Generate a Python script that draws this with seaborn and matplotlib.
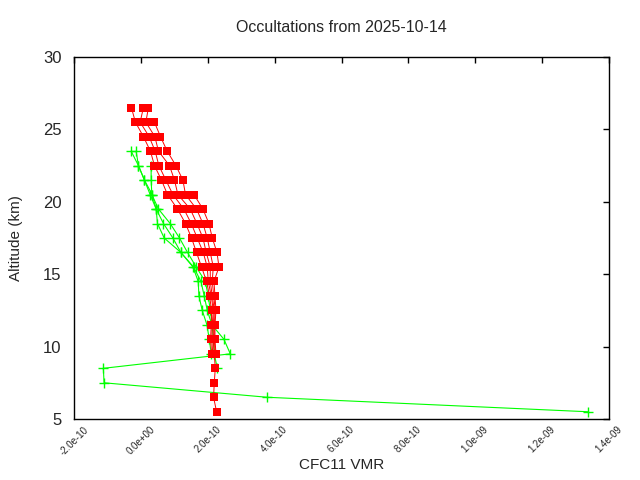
import numpy as np
import pandas as pd
import matplotlib
matplotlib.use("Agg")
import matplotlib.pyplot as plt
import seaborn as sns
from matplotlib.ticker import FuncFormatter

# ---- data (VMR values in units of 1e-10) ----
alt_levels = [26.5, 25.5, 24.5, 23.5, 22.5, 21.5, 20.5, 19.5, 18.5, 17.5, 16.5,
              15.5, 14.5, 13.5, 12.5, 11.5, 10.5, 9.5, 8.5, 7.5, 6.5, 5.5]
nan = np.nan
red_p1 = [-0.283, -0.163, 0.076, 0.286, 0.406, 0.616, 0.796, 1.095, 1.335, 1.515, 1.664,
          1.814, 1.964, 2.054, 2.114, 2.105, 2.084, 2.114, nan, nan, nan, nan]
red_p2 = [0.076, -0.022, 0.247, 0.427, 0.538, 0.748, 0.957, 1.287, 1.506, 1.685, 1.865,
          1.985, 2.015, 2.105, 2.165, 2.135, 2.120, 2.150, nan, nan, nan, nan]
red_p3 = [0.226, 0.148, 0.418, 0.526, 0.855, 1.005, 1.107, 1.476, 1.676, 1.856, 1.955,
          2.075, 2.075, 2.135, 2.195, 2.165, 2.165, 2.195, 2.225, 2.195, 2.174, 2.264]
red_p4 = [nan, 0.406, 0.586, 0.787, 1.047, 1.257, 1.335, 1.664, 1.856, 1.985, 2.075,
          2.165, 2.135, 2.180, 2.225, 2.195, 2.195, 2.225, nan, nan, nan, nan]
red_p5 = [nan, nan, nan, nan, nan, nan, 1.587, 1.856, 2.036, 2.135, 2.276,
          2.336, 2.186, 2.216, 2.246, 2.216, 2.216, 2.246, nan, nan, nan, nan]

green_p1 = [nan, nan, nan, -0.292, -0.073, 0.106, 0.277, 0.457, 0.496, 0.697, 1.197,
            1.557, 1.715, 1.736, 1.835, 1.976, 2.045, 2.105, nan, nan, nan, nan]
green_p2 = [nan, nan, nan, -0.142, -0.073, 0.106, 0.337, 0.457, 0.676, 0.957, 1.197,
            1.575, 1.796, 1.895, 1.985, 2.126, 2.485, 2.674, -1.122, -1.101, 3.783, 13.371]
green_p3 = [nan, nan, nan, nan, 0.307, 0.307, 0.328, 0.526, 0.876, 1.155, 1.395,
            1.655, 1.925, 2.015, 2.075, 2.135, 2.165, 2.195, 2.285, nan, nan, nan]

x_ticks = [-2e-10, 0.0, 2e-10, 4e-10, 6e-10, 8e-10, 1.0e-9, 1.2e-9, 1.4e-9]
y_ticks = [5, 10, 15, 20, 25, 30]
UNIT = 1e-10


def long_df(profiles):
    rows = []
    for i, prof in enumerate(profiles):
        for a, v in zip(alt_levels, prof):
            if not np.isnan(v):
                rows.append({"profile": i, "alt": a, "vmr": v * UNIT})
    return pd.DataFrame(rows)


df_red = long_df([red_p1, red_p2, red_p3, red_p4, red_p5])
df_green = long_df([green_p1, green_p2, green_p3])

sns.set_theme(style="white")
plt.rcParams["font.family"] = ["Liberation Sans", "DejaVu Sans"]

fig = plt.figure(figsize=(6.4, 4.8), dpi=100)
ax = fig.add_axes([74 / 640, 1 - 419 / 480, 535 / 640, 362 / 480])

sns.lineplot(data=df_green, x="vmr", y="alt", units="profile", estimator=None,
             sort=False, color="#00ff00", marker="+", markersize=7,
             markeredgewidth=1.0, markeredgecolor="#00ff00", linewidth=0.8,
             ax=ax, zorder=2)
sns.lineplot(data=df_red, x="vmr", y="alt", units="profile", estimator=None,
             sort=False, color="#ff0000", marker="s", markersize=5.8,
             markeredgewidth=0, markeredgecolor="#ff0000", linewidth=0.7,
             ax=ax, zorder=3)

ax.set_xlim(-2e-10, 1.4e-9)
ax.set_ylim(5, 30)
ax.set_xticks(x_ticks)
ax.set_yticks(y_ticks)
ax.xaxis.set_major_formatter(FuncFormatter(lambda v, p: f"{v:.1e}"))
ax.tick_params(axis="both", direction="in", top=True, right=True,
               length=4, width=1, color="black")
ax.tick_params(axis="x", labelsize=7, pad=4, labelrotation=45)
ax.tick_params(axis="y", labelsize=12, pad=9)
for lab in ax.get_xticklabels():
    lab.set_ha("center")

for s in ax.spines.values():
    s.set_visible(True)
    s.set_color("black")
    s.set_linewidth(1)
ax.grid(False)

ax.set_title("Occultations from 2025-10-14", fontsize=11.5, pad=18)
ax.set_xlabel("CFC11 VMR", fontsize=11)
ax.set_ylabel("Altitude (km)", fontsize=11)
ax.xaxis.set_label_coords(0.5, -0.108)
ax.yaxis.set_label_coords(-0.096, 0.5)

fig.savefig("out.png", dpi=100)
